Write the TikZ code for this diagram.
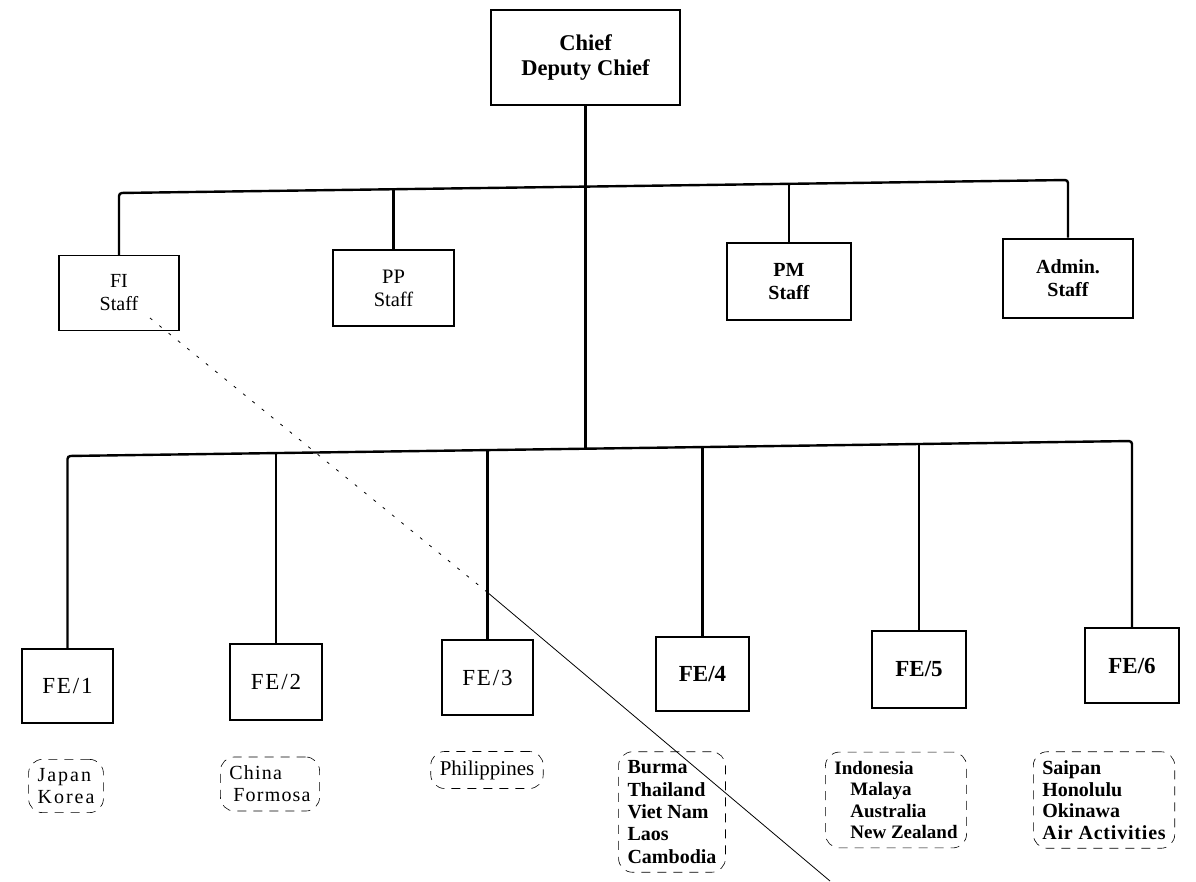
\documentclass[tikz,border=0pt]{standalone}
\usepackage{fontspec}
\setmainfont{Liberation Serif}
\begin{document}
\begin{tikzpicture}[x=1pt,y=-1pt,
  box/.style={draw, line width=1.4pt, align=center, inner sep=0pt, font=\fontsize{20}{23}\selectfont},
  hbox/.style={draw, line width=2.3pt, align=center, inner sep=0pt, font=\bfseries\fontsize{20}{23}\selectfont},
  fefont/.style={font=\fontsize{23}{25}\selectfont\addfontfeatures{LetterSpace=8}},
  fbfont/.style={font=\bfseries\fontsize{23}{25}\selectfont},
  conn/.style={line width=2.4pt, rounded corners=3pt},
  region/.style={draw, line width=0.6pt, dash pattern=on 9pt off 7pt, rounded corners=14pt, align=left, inner sep=9pt, font=\fontsize{20}{22}\selectfont},
  crease/.style={line width=0.8pt},
]
\useasboundingbox (0,0) rectangle (1196,881);
% top
\node[hbox, minimum width=189pt, minimum height=95pt, font=\bfseries\fontsize{22.5}{25}\selectfont] (chief) at (585.5,57.5) {Chief\\Deputy Chief};
% staff
\node[box, minimum width=120pt, minimum height=75pt] (fi) at (119,293) {FI\\Staff};
\node[box, line width=1.8pt, minimum width=121pt, minimum height=76pt, font=\fontsize{20.5}{23}\selectfont] (pp) at (393.5,288) {PP\\Staff};
\node[hbox, minimum width=124pt, minimum height=77pt] (pm) at (789,281.5) {PM\\Staff};
\node[hbox, line width=2.8pt, minimum width=130pt, minimum height=79pt] (admin) at (1068,278.5) {Admin.\\Staff};
% FE
\node[box, minimum width=91pt, minimum height=74pt, fefont] (fe1) at (67.5,686) {FE/1};
\node[box, line width=1.8pt, minimum width=92pt, minimum height=76pt, fefont] (fe2) at (276,682) {FE/2};
\node[box, line width=1.8pt, minimum width=91pt, minimum height=75pt, fefont] (fe3) at (487.5,677.5) {FE/3};
\node[hbox, minimum width=93pt, minimum height=74pt, fbfont] (fe4) at (702.5,674) {FE/4};
\node[hbox, minimum width=94pt, minimum height=77pt, fbfont] (fe5) at (919,669.5) {FE/5};
\node[hbox, minimum width=94pt, minimum height=75pt, fbfont] (fe6) at (1132,665.5) {FE/6};
% top bar
\coordinate (t1) at (119,193);
\coordinate (t2) at (393.5,189);
\coordinate (t0) at (585.5,186.6);
\coordinate (t3) at (789,183.8);
\coordinate (t4) at (1068,180);
\draw[conn] (fi.north) -- (t1) -- (t4) -- (admin.north);
\draw[conn] (t2) -- (pp.north);
\draw[conn] (t3) -- (pm.north);
% bottom bar
\coordinate (b1) at (67.5,456);
\coordinate (b2) at (276,453);
\coordinate (b3) at (487.5,450);
\coordinate (b0) at (585.5,448.7);
\coordinate (b4) at (702.5,447);
\coordinate (b5) at (919,444);
\coordinate (b6) at (1132,441);
\draw[conn] (chief.south) -- (b0);
\draw[conn] (fe1.north) -- (b1) -- (b6) -- (fe6.north);
\draw[conn] (b2) -- (fe2.north);
\draw[conn] (b3) -- (fe3.north);
\draw[conn] (b4) -- (fe4.north);
\draw[conn] (b5) -- (fe5.north);
% regions
\node[region, font=\fontsize{20}{22}\selectfont\addfontfeatures{LetterSpace=10}] (r1) at (66,786) {Japan\\Korea};
\node[region, font=\fontsize{20}{22}\selectfont\addfontfeatures{LetterSpace=6}] (r2) at (270,784) {China\\\hspace*{4pt}Formosa};
\node[region, font=\fontsize{21}{22}\selectfont] (r3) at (487,770) {Philippines};
\node[region, font=\bfseries\fontsize{20}{22.3}\selectfont] (r4) at (672,812) {Burma\\Thailand\\Viet Nam\\Laos\\Cambodia};
\node[region, font=\bfseries\fontsize{19}{21.5}\selectfont] (r5) at (896,800) {Indonesia\\\hspace*{16pt}Malaya\\\hspace*{16pt}Australia\\\hspace*{16pt}New Zealand};
\node[region, anchor=west, font=\bfseries\fontsize{20}{21.5}\selectfont] (r6) at (1033,800) {Saipan\\Honolulu\\Okinawa\\{\addfontfeatures{LetterSpace=4}Air Activities}};
% crease
\coordinate (c1) at (150,318);
\coordinate (c2) at (487,592);
\coordinate (c3) at (830,881);
\draw[crease, dash pattern=on 3pt off 9pt] (c1) -- (c2);
\draw[crease] (c2) -- (c3);
\end{tikzpicture}
\end{document}
